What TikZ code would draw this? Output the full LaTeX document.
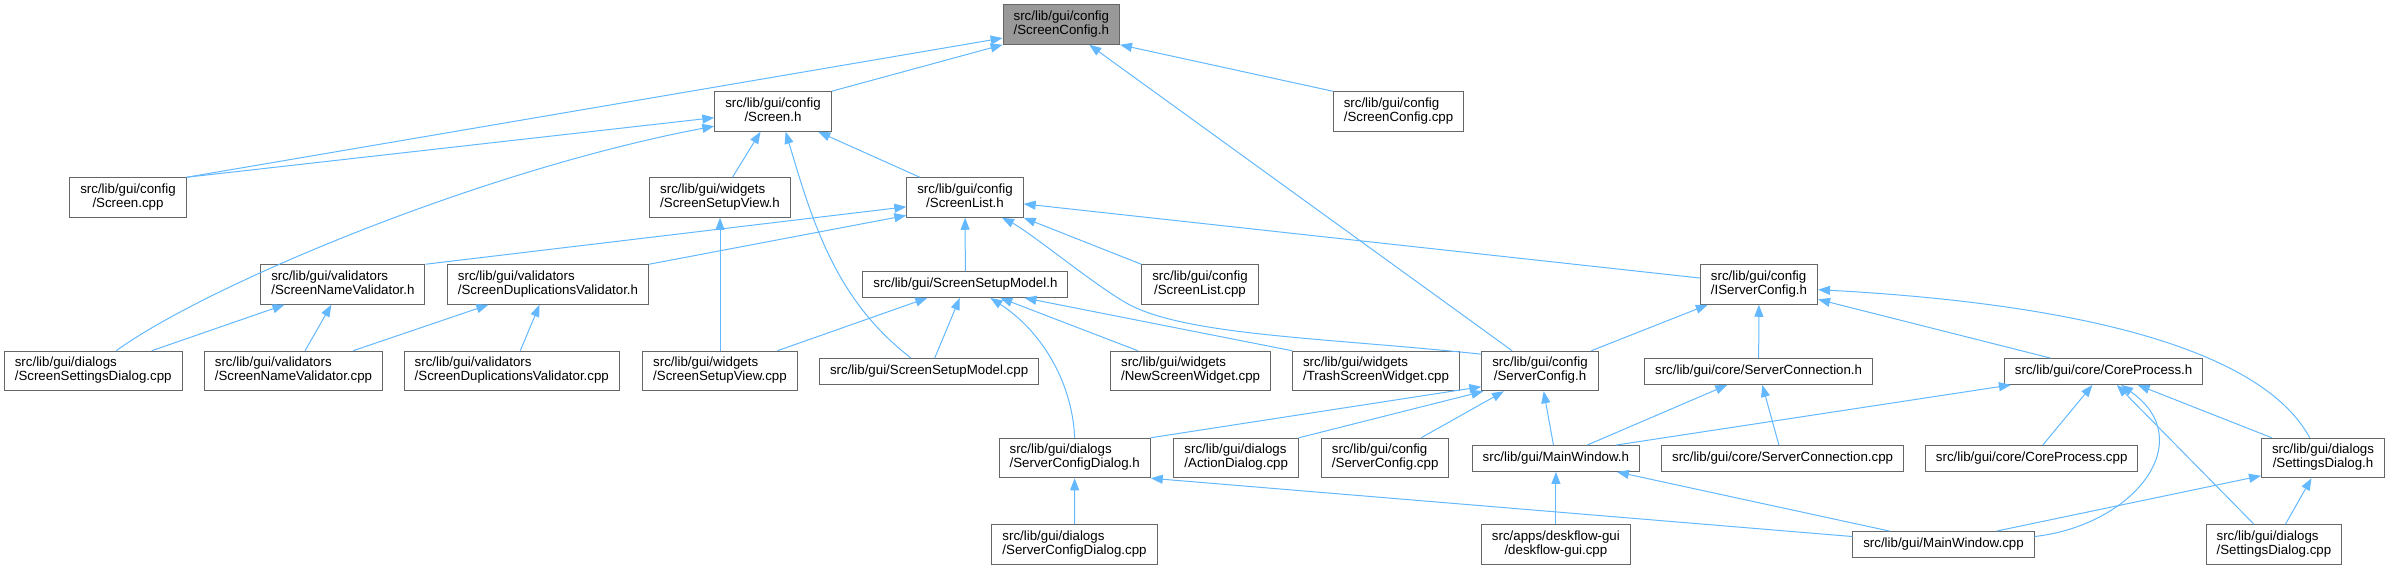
\documentclass[tikz,border=0pt]{standalone}
\usepackage{fontspec}
\setmainfont{Liberation Sans}
\usepackage{xcolor}
\usetikzlibrary{arrows.meta}
\definecolor{edgeblue}{HTML}{63B8FF}
\definecolor{boxgray}{HTML}{666666}
\definecolor{focusgray}{HTML}{999999}
\newcommand{\lbl}[2]{\begin{tabular}{@{}c@{}}\multicolumn{1}{@{}l@{}}{#1}\\#2\end{tabular}}
\newcommand{\one}[1]{\begin{tabular}{@{}c@{}}#1\end{tabular}}

\begin{document}
\begin{tikzpicture}[x=1pt,y=-1pt,
  file/.style={draw=boxgray,line width=1pt,fill=white,inner xsep=10.5pt,inner ysep=6.1pt,
    font=\fontsize{13.3}{13.4}\selectfont},
  focus/.style={file,fill=focusgray},
  inc/.style={draw=edgeblue,line width=1pt,-{Triangle[length=12pt,width=9pt]}}]
\useasboundingbox (0,0) rectangle (2391,569);
\node[focus] (cfgh) at (1061.3,24.5) {\lbl{src/lib/gui/config}{/ScreenConfig.h}};
\node[file] (scrh) at (773,111.5) {\lbl{src/lib/gui/config}{/Screen.h}};
\node[file] (cfgcpp) at (1398.5,111.5) {\lbl{src/lib/gui/config}{/ScreenConfig.cpp}};
\node[file] (scrcpp) at (128,197.5) {\lbl{src/lib/gui/config}{/Screen.cpp}};
\node[file] (ssvh) at (720,197.5) {\lbl{src/lib/gui/widgets}{/ScreenSetupView.h}};
\node[file] (slh) at (965,197.5) {\lbl{src/lib/gui/config}{/ScreenList.h}};
\node[file] (snvh) at (342.9,284.5) {\lbl{src/lib/gui/validators}{/ScreenNameValidator.h}};
\node[file] (sdvh) at (548,284.5) {\lbl{src/lib/gui/validators}{/ScreenDuplicationsValidator.h}};
\node[file] (ssmh) at (965.4,284.5) {\one{src/lib/gui/ScreenSetupModel.h}};
\node[file] (slcpp) at (1200,284.5) {\lbl{src/lib/gui/config}{/ScreenList.cpp}};
\node[file] (iscfgh) at (1759,284.5) {\lbl{src/lib/gui/config}{/IServerConfig.h}};
\node[file] (ssdcpp) at (93.2,371) {\lbl{src/lib/gui/dialogs}{/ScreenSettingsDialog.cpp}};
\node[file] (snvcpp) at (293.5,371) {\lbl{src/lib/gui/validators}{/ScreenNameValidator.cpp}};
\node[file] (sdvcpp) at (511.8,371) {\lbl{src/lib/gui/validators}{/ScreenDuplicationsValidator.cpp}};
\node[file] (ssvcpp) at (720,371) {\lbl{src/lib/gui/widgets}{/ScreenSetupView.cpp}};
\node[file] (ssmcpp) at (929.1,371.5) {\one{src/lib/gui/ScreenSetupModel.cpp}};
\node[file] (nswcpp) at (1190.6,371) {\lbl{src/lib/gui/widgets}{/NewScreenWidget.cpp}};
\node[file] (tswcpp) at (1376,371) {\lbl{src/lib/gui/widgets}{/TrashScreenWidget.cpp}};
\node[file] (srvcfgh) at (1540,371) {\lbl{src/lib/gui/config}{/ServerConfig.h}};
\node[file] (sconnh) at (1758.6,371.5) {\one{src/lib/gui/core/ServerConnection.h}};
\node[file] (coreh) at (2103.6,371.5) {\one{src/lib/gui/core/CoreProcess.h}};
\node[file] (scdh) at (1074.7,458) {\lbl{src/lib/gui/dialogs}{/ServerConfigDialog.h}};
\node[file] (actcpp) at (1236.2,458) {\lbl{src/lib/gui/dialogs}{/ActionDialog.cpp}};
\node[file] (srvcfgcpp) at (1385.2,458) {\lbl{src/lib/gui/config}{/ServerConfig.cpp}};
\node[file] (mwh) at (1555.9,458.5) {\one{src/lib/gui/MainWindow.h}};
\node[file] (sconncpp) at (1782.6,458.5) {\one{src/lib/gui/core/ServerConnection.cpp}};
\node[file] (corecpp) at (2031.7,458.5) {\one{src/lib/gui/core/CoreProcess.cpp}};
\node[file] (sdh) at (2323,458) {\lbl{src/lib/gui/dialogs}{/SettingsDialog.h}};
\node[file] (scdcpp) at (1074.5,544.5) {\lbl{src/lib/gui/dialogs}{/ServerConfigDialog.cpp}};
\node[file] (dgcpp) at (1555.9,544.5) {\lbl{src/apps/deskflow-gui}{/deskflow-gui.cpp}};
\node[file] (mwcpp) at (1943.5,544.5) {\one{src/lib/gui/MainWindow.cpp}};
\node[file] (sdcpp) at (2273.9,544.5) {\lbl{src/lib/gui/dialogs}{/SettingsDialog.cpp}};
% ScreenConfig.h, Screen.h, ScreenSetupView.h
\draw[inc] (scrcpp.north east) -- (cfgh.193);
\draw[inc] (scrh.north east) -- (cfgh.south west);
\draw[inc] (cfgcpp.north west) -- (cfgh.south east);
\draw[inc] (srvcfgh) -- (cfgh);
\draw[inc] (scrcpp.north east) -- (scrh.186);
\draw[inc] ([xshift=23pt]ssdcpp.north) .. controls (207,285) and (482,170) .. (scrh.194);
\draw[inc] (ssvh) -- (scrh);
\draw[inc] ([xshift=-18pt]ssmcpp.north) .. controls (835,300) and (812,220) .. ([xshift=12.6pt]scrh.south);
\draw[inc] (slh) -- (scrh);
\draw[inc] (ssvcpp) -- (ssvh);
% ScreenList.h and validators
\draw[inc] (snvh.north east) -- (slh.189);
\draw[inc] (sdvh.north east) -- (slh.197);
\draw[inc] (ssmh) -- (slh);
\draw[inc] (slcpp.north west) -- (slh.south east);
\draw[inc] (srvcfgh.164) .. controls (1330,338) and (1190,336) .. (1130,305)
  .. controls (1100,289.5) and (1030,232) .. ([xshift=37pt]slh.south);
\draw[inc] (iscfgh) -- (slh);
\draw[inc] (ssdcpp) -- (snvh);
\draw[inc] (snvcpp) -- (snvh);
\draw[inc] (snvcpp) -- (sdvh);
\draw[inc] (sdvcpp) -- (sdvh);
% ScreenSetupModel.h
\draw[inc] (ssvcpp) -- (ssmh);
\draw[inc] (ssmcpp) -- (ssmh);
\draw[inc] (nswcpp) -- (ssmh);
\draw[inc] (tswcpp.north west) -- ([xshift=-44pt]ssmh.south east);
\draw[inc] (scdh.north) .. controls (1072,380) and (1040,330) .. ([xshift=25pt]ssmh.south);
% ServerConfig.h, IServerConfig.h
\draw[inc] (scdh.north east) -- (srvcfgh.195);
\draw[inc] (actcpp.north east) -- ([xshift=2pt]srvcfgh.south west);
\draw[inc] (srvcfgcpp) -- (srvcfgh);
\draw[inc] (mwh) -- (srvcfgh);
\draw[inc] (srvcfgh) -- (iscfgh);
\draw[inc] (sconnh) -- (iscfgh);
\draw[inc] (coreh) -- (iscfgh);
\draw[inc] ([xshift=-13.3pt]sdh.north) .. controls (2265,355) and (2100,305) .. (iscfgh.-5);
% core and dialogs
\draw[inc] (mwh) -- (sconnh);
\draw[inc] (sconncpp) -- (sconnh);
\draw[inc] ([xshift=-24pt]mwh.north east) -- ([xshift=7pt]coreh.south west);
\draw[inc] (corecpp) -- (coreh);
\draw[inc] (mwcpp.5) .. controls (2135,525) and (2200,440) .. ([xshift=17.4pt]coreh.south);
\draw[inc] (sdcpp) -- (coreh);
\draw[inc] (sdh) -- (coreh);
\draw[inc] ([xshift=53pt]mwcpp.north) -- (sdh.196);
\draw[inc] (sdcpp) -- (sdh);
\draw[inc] (scdcpp) -- (scdh);
\draw[inc] (mwcpp.175) -- (scdh.south east);
\draw[inc] (dgcpp) -- (mwh);
\draw[inc] ([xshift=-54pt]mwcpp.north) -- ([xshift=61pt]mwh.south);
\end{tikzpicture}
\end{document}
